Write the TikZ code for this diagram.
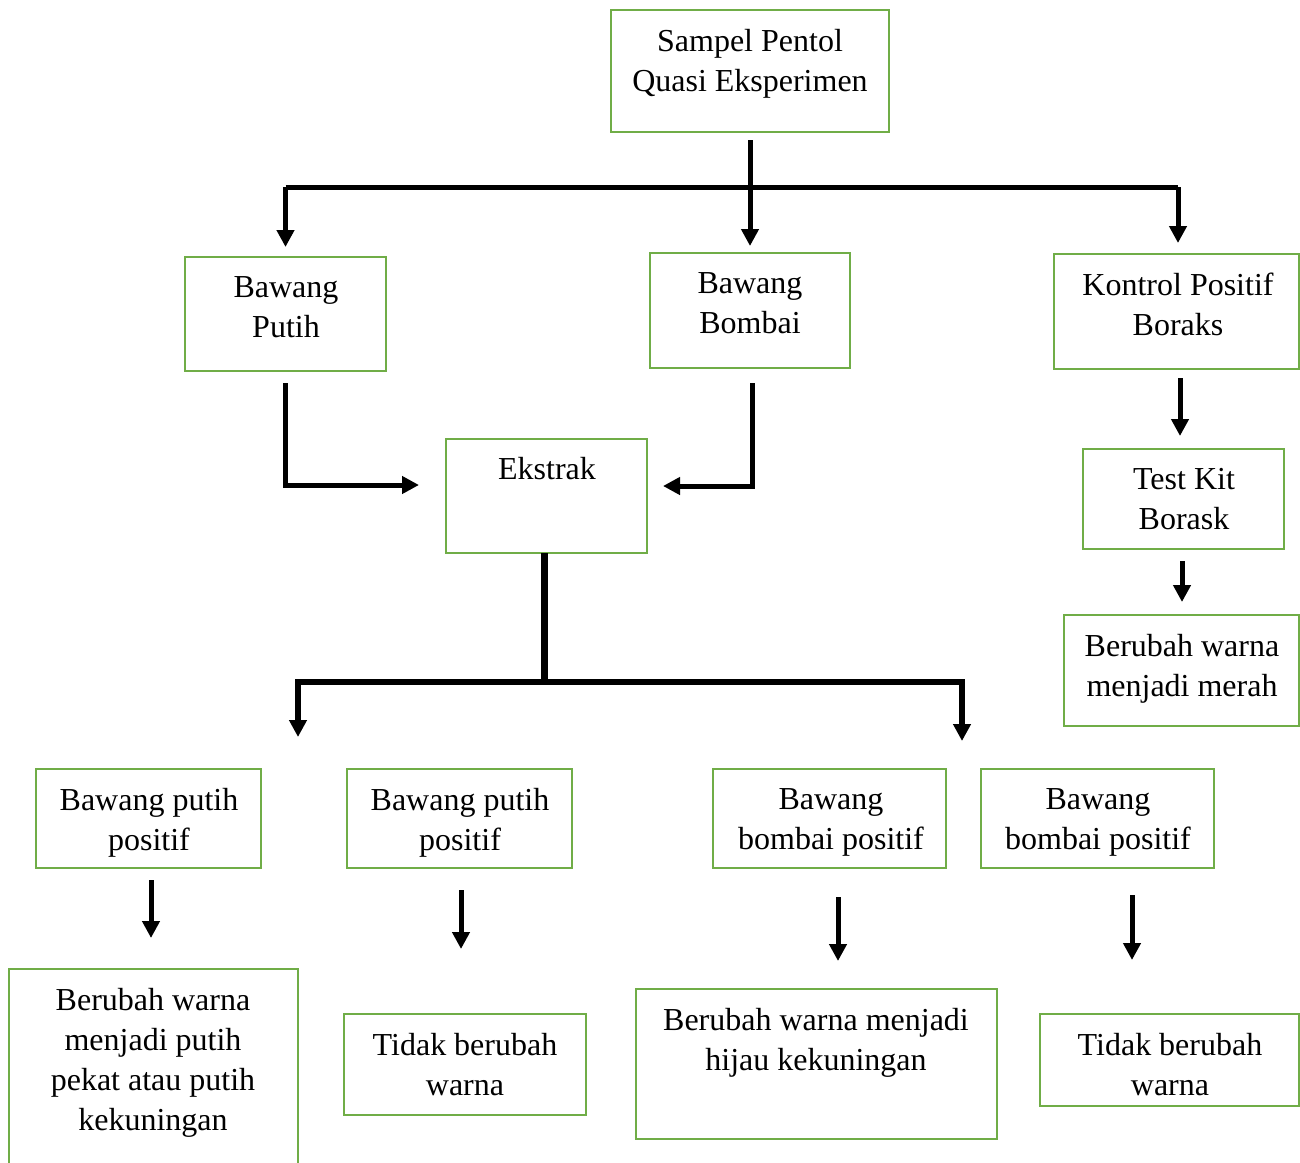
\documentclass[tikz,border=0pt]{standalone}
\usepackage{fontspec}
\setmainfont{Liberation Serif}
\usetikzlibrary{arrows.meta,calc}
\definecolor{boxgreen}{RGB}{112,173,71}
\tikzset{
  box/.style={draw=boxgreen, line width=2.6pt, rectangle, inner sep=0pt, outer sep=0pt, anchor=north west},
  txt/.style={inner sep=0pt, anchor=north, align=center, font=\fontsize{32}{40}\selectfont},
  lineA/.style={line width=5pt, draw=black},
  lineB/.style={line width=7pt, draw=black},
  conn/.style={line width=5pt, draw=black, -{Triangle[width=17pt,length=17pt]}},
  connB/.style={line width=6pt, draw=black, -{Triangle[width=17pt,length=17pt]}},
}
\begin{document}
\begin{tikzpicture}[x=1pt,y=-1pt]
\useasboundingbox (0,0) rectangle (1300,1162);
% boxes
\node[box, minimum width=278pt, minimum height=122pt] (sampel) at (611,10) {};
\node[box, minimum width=201pt, minimum height=114pt] (bputih) at (185,257) {};
\node[box, minimum width=200pt, minimum height=115pt] (bbombai) at (650,253) {};
\node[box, minimum width=245pt, minimum height=115pt] (kontrol) at (1054,254) {};
\node[box, minimum width=201pt, minimum height=114pt] (ekstrak) at (446,439) {};
\node[box, minimum width=201pt, minimum height=100pt] (testkit) at (1083,449) {};
\node[box, minimum width=235pt, minimum height=111pt] (merah) at (1064,615) {};
\node[box, minimum width=225pt, minimum height=99pt] (bp1) at (36,769) {};
\node[box, minimum width=225pt, minimum height=99pt] (bp2) at (347,769) {};
\node[box, minimum width=233pt, minimum height=99pt] (bb1) at (713,769) {};
\node[box, minimum width=233pt, minimum height=99pt] (bb2) at (981,769) {};
\node[box, minimum width=289pt, minimum height=210pt] (pekat) at (9,969) {};
\node[box, minimum width=242pt, minimum height=101pt] (tidak1) at (344,1014) {};
\node[box, minimum width=361pt, minimum height=150pt] (hijau) at (636,989) {};
\node[box, minimum width=259pt, minimum height=92pt] (tidak2) at (1040,1014) {};
% texts
\node[txt] (tsampel) at (750,29) {Sampel Pentol\\Quasi Eksperimen};
\node[txt] (tbputih) at (286,276) {Bawang\\Putih};
\node[txt] (tbbombai) at (750,272) {Bawang\\Bombai};
\node[txt] (tkontrol) at (1178,273) {Kontrol Positif\\Boraks};
\node[txt] (tekstrak) at (547,457) {Ekstrak};
\node[txt] (ttestkit) at (1184,468) {Test Kit\\Borask};
\node[txt] (tmerah) at (1182,634) {Berubah warna\\menjadi merah};
\node[txt] (tbp1) at (149,788) {Bawang putih\\positif};
\node[txt] (tbp2) at (460,788) {Bawang putih\\positif};
\node[txt] (tbb1) at (831,788) {Bawang\\bombai positif};
\node[txt] (tbb2) at (1098,788) {Bawang\\bombai positif};
\node[txt] (tpekat) at (153,988) {Berubah warna\\menjadi putih\\pekat atau putih\\kekuningan};
\node[txt] (ttidak1) at (465,1033) {Tidak berubah\\warna};
\node[txt] (thijau) at (816,1008) {Berubah warna menjadi\\hijau kekuningan};
\node[txt] (ttidak2) at (1170,1033) {Tidak berubah\\warna};
% junction coordinates
\coordinate (jL) at (285.5,187);
\coordinate (jR) at (1178,187);
\coordinate (kj) at (544,682);
\coordinate (k1) at (298,737);
\coordinate (k2) at (962,741);
% top connectors
\draw[lineA] (jL) -- (jR);
\draw[conn] ([yshift=-8pt]sampel.south) -- ([yshift=7pt]bbombai.north);
\draw[conn, shorten >=10pt] (jL) -- (jL |- bputih.north);
\draw[conn, shorten >=11pt] (jR) -- (jR |- kontrol.north);
% into Ekstrak
\draw[conn, shorten <=12pt, shorten >=27pt] (bputih.south) |- ([yshift=11pt]ekstrak.west);
\draw[conn, shorten <=15pt, shorten >=16pt] ([xshift=2pt]bbombai.south) |- ([yshift=10pt]ekstrak.east);
% from Ekstrak
\draw[lineB] (kj |- ekstrak.south) -- (kj);
\draw[connB] (kj) -| (k1);
\draw[connB] (kj) -| (k2);
% control chain
\draw[conn] ([xshift=3.5pt,yshift=-9pt]kontrol.south) -- ([xshift=-3.5pt,yshift=13pt]testkit.north);
\draw[conn] ([xshift=-1.5pt,yshift=-12pt]testkit.south) -- ([xshift=0.5pt,yshift=13pt]merah.north);
% bottom arrows
\draw[conn] ([xshift=2.5pt,yshift=-12pt]bp1.south) -- ([xshift=-2.5pt,yshift=31pt]pekat.north);
\draw[conn] ([xshift=1.5pt,yshift=-22pt]bp2.south) -- ([xshift=-4pt,yshift=65pt]tidak1.north);
\draw[conn] ([xshift=8.5pt,yshift=-29pt]bb1.south) -- ([xshift=21.5pt,yshift=28pt]hijau.north);
\draw[conn] ([xshift=34.5pt,yshift=-27pt]bb2.south) -- ([xshift=-37.5pt,yshift=54pt]tidak2.north);
\end{tikzpicture}
\end{document}
